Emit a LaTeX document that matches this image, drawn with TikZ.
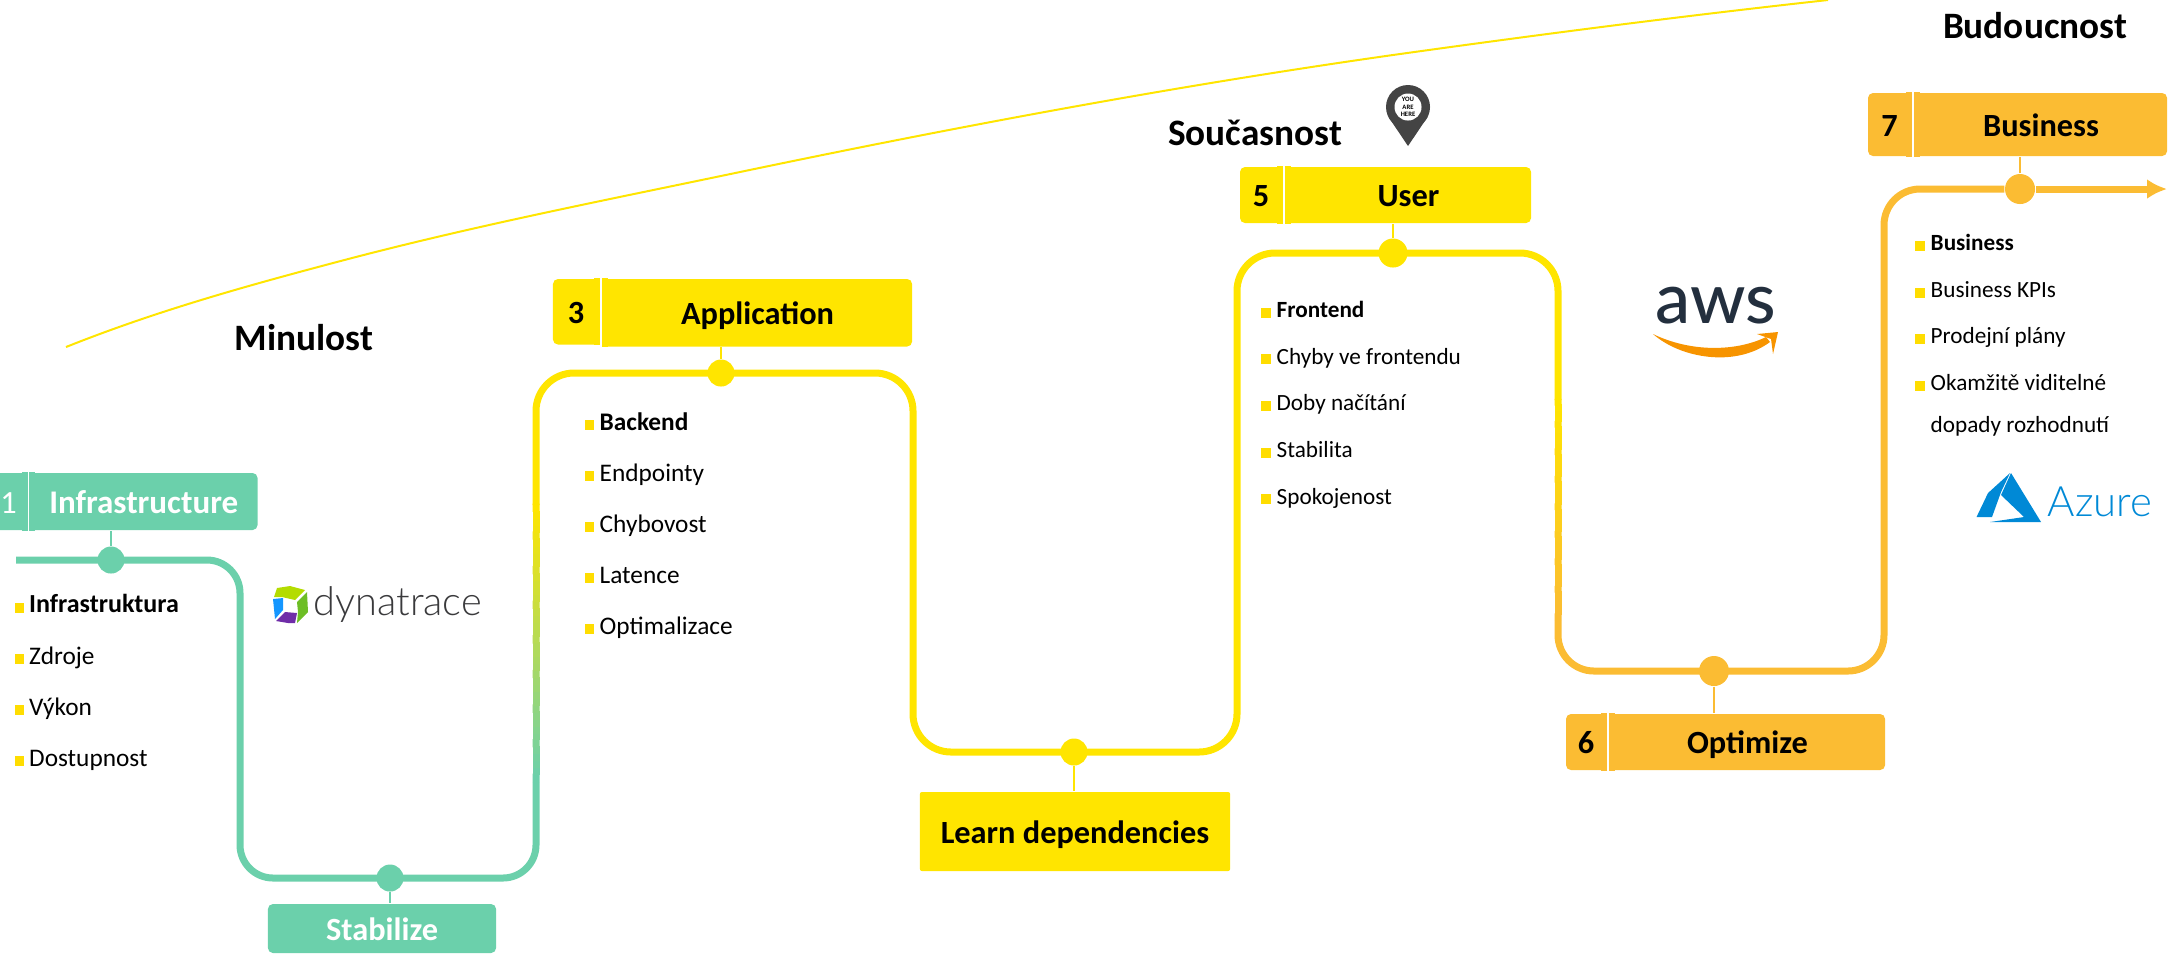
\documentclass[tikz,border=0pt]{standalone}
\usepackage{fontspec}
\usepackage{tikz}
\usetikzlibrary{calc, arrows.meta, positioning}
\setmainfont{Carlito}
\newfontfamily\logofont{Lato Medium}
\newfontfamily\thinfont{Lato Light}
\definecolor{tealc}{HTML}{6BD0AB}
\definecolor{yellowc}{HTML}{FFE500}
\definecolor{orangec}{HTML}{FBBC33}
\definecolor{bulletc}{HTML}{FFDD00}
\definecolor{azurec}{HTML}{0089D6}
\tikzset{
  stagebox/.style={inner sep=0pt, rounded corners=0.05cm, text height=0.23cm, text depth=0pt, font=\fontsize{9.2}{11}\bfseries\selectfont},
  dotnode/.style={circle, inner sep=0pt, minimum size=0.27cm},
  pathline/.style={line width=0.07cm},
  stemline/.style={line width=0.018cm},
  itemtext/.style={anchor=base west, inner sep=0pt, font=\fontsize{7.2}{9}\selectfont},
  itemsmall/.style={anchor=base west, inner sep=0pt, font=\fontsize{6.6}{9}\selectfont},
  itembold/.style={anchor=base west, inner sep=0pt, font=\fontsize{7.2}{9}\bfseries\selectfont},
  itemsmallbold/.style={anchor=base west, inner sep=0pt, font=\fontsize{6.6}{9}\bfseries\selectfont},
  bulletbox/.style={fill=bulletc, inner sep=0pt, minimum size=0.095cm},
  eralabel/.style={anchor=base, inner sep=0pt, font=\fontsize{10.6}{12}\bfseries\selectfont}
}
\begin{document}
\begin{tikzpicture}[>=latex, x=0.01cm, y=-0.01cm]
\useasboundingbox (0,0) rectangle (2179,953);

\draw[yellowc, line width=0.02cm] (66,347) .. controls (161,309) and (257,283) .. (352,258)
  .. controls (481,224.4) and (611,199) .. (740,172)
  .. controls (960,126) and (1180,85) .. (1400,54)
  .. controls (1543,34) and (1685,15.7) .. (1828,0);

\node[eralabel] (eraPast) at (304,350) {Minulost};
\node[eralabel] (eraNow) at (1255,145) {Současnost};
\node[eralabel] (eraNext) at (2035,38.5) {Budoucnost};

\node[stagebox, fill=tealc, text=white, font=\fontsize{9.2}{11}\selectfont, minimum width=0.37cm, minimum height=0.57cm] (numA) at (8.5,501.5) {1};
\node[stagebox, fill=tealc, text=white, font=\fontsize{9.4}{11}\bfseries\selectfont, minimum width=2.275cm, minimum height=0.57cm] (boxA) at (143.75,501.5) {Infrastructure};
\node[stagebox, fill=tealc, text=white, minimum width=2.28cm, minimum height=0.49cm] (boxB) at (382,928.5) {Stabilize};
\node[stagebox, fill=yellowc, minimum width=0.46cm, minimum height=0.655cm] (numC) at (576,311.75) {3};
\node[stagebox, fill=yellowc, minimum width=3.09cm, minimum height=0.675cm] (boxC) at (757.5,312.75) {Application};
\node[stagebox, fill=yellowc, minimum width=3.10cm, minimum height=0.79cm, rounded corners=0.02cm] (boxD) at (1075,831.5) {Learn dependencies};
\node[stagebox, fill=yellowc, minimum width=0.42cm, minimum height=0.56cm] (numE) at (1261,195) {5};
\node[stagebox, fill=yellowc, minimum width=2.45cm, minimum height=0.56cm] (boxE) at (1408.5,195) {User};
\node[stagebox, fill=orangec, minimum width=0.40cm, minimum height=0.56cm] (numF) at (1586,742) {6};
\node[stagebox, fill=orangec, minimum width=2.75cm, minimum height=0.56cm] (boxF) at (1747.5,742) {Optimize};
\node[stagebox, fill=orangec, minimum width=0.43cm, minimum height=0.63cm] (numG) at (1889.5,124.5) {7};
\node[stagebox, fill=orangec, minimum width=2.52cm, minimum height=0.63cm] (boxG) at (2041,124.5) {Business};

\foreach \num/\main/\shadec in {numA/boxA/tealc, numC/boxC/yellowc, numE/boxE/yellowc, numF/boxF/orangec, numG/boxG/orangec} {
  \fill[\shadec] (\num.north east) rectangle ($(\num.south east)+(-6,0)$);
  \fill[\shadec] (\main.north west) rectangle ($(\main.south west)+(6,0)$);
}

\node[dotnode, fill=tealc] (dotA) at (111,560) {};
\node[dotnode, fill=tealc] (dotB) at (390,878) {};
\node[dotnode, fill=yellowc] (dotC) at (721,373) {};
\node[dotnode, fill=yellowc] (dotD) at (1074,752) {};
\node[dotnode, fill=yellowc, minimum size=0.29cm] (dotE) at (1393,253) {};
\node[dotnode, fill=orangec, minimum size=0.30cm] (dotF) at (1714,671) {};
\node[dotnode, fill=orangec, minimum size=0.30cm] (dotG) at (2020,189) {};

\draw[tealc, stemline] (dotA) -- (dotA |- boxA.south);
\draw[tealc, stemline] (dotB) -- (dotB |- boxB.north);
\draw[yellowc, stemline] (dotC) -- (dotC |- boxC.south);
\draw[yellowc, stemline] (dotD) -- (dotD |- boxD.north);
\draw[yellowc, stemline] (dotE) -- (dotE |- boxE.south);
\draw[orangec, stemline] (dotF) -- (dotF |- boxF.north);
\draw[orangec, stemline] (dotG) -- (dotG |- boxG.south);

\coordinate (startA) at (16,560);
\coordinate (bendA) at (240,560);
\coordinate (bendB) at (240,878);
\coordinate (bendC) at (536,878);
\coordinate (fadeA) at (536,782);
\coordinate (fadeB) at (536,505);
\coordinate (bendD) at (536,373);
\coordinate (bendE) at (913,373);
\coordinate (bendF) at (913,752);
\coordinate (bendG) at (1237,752);
\coordinate (bendH) at (1237,253);
\coordinate (bendI) at (1558,253);
\coordinate (fadeC) at (1558,400);
\coordinate (fadeD) at (1558,620);
\coordinate (bendJ) at (1558,671);
\coordinate (bendK) at (1884,671);
\coordinate (bendL) at (1884,189);
\coordinate (endG) at (2167,189);

\draw[tealc, pathline, rounded corners=0.33cm] (startA) -- (bendA) -- (bendB) -- (bendC) -- (fadeA);
\draw[yellowc, pathline, rounded corners=0.38cm] (fadeB) -- (bendD) -- (bendE) -- (bendF) -- (bendG) -- (bendH) -- (bendI) -- (fadeC);
\draw[orangec, pathline, rounded corners=0.36cm] (fadeD) -- (bendJ) -- (bendK) -- (bendL) -- (dotG);
\draw[orangec, pathline, -{Latex[length=0.2cm, width=0.2cm]}] (dotG) -- (endG);
\foreach \k in {0,...,39} {
  \pgfmathtruncatemacro\mixv{\k*100/39}
  \draw[yellowc!\mixv!tealc, pathline] ($(fadeA)!\k/40!(fadeB)$) -- ($(fadeA)!\k/40+0.03!(fadeB)$);
  \draw[yellowc!\mixv!orangec, pathline] ($(fadeD)!\k/40!(fadeC)$) -- ($(fadeD)!\k/40+0.03!(fadeC)$);
}

\node[bulletbox] (markA1) at (19.5,608) {};
\node[bulletbox] (markA2) at (19.5,659) {};
\node[bulletbox] (markA3) at (19.5,710) {};
\node[bulletbox] (markA4) at (19.5,761) {};
\node[itembold, font=\fontsize{7.4}{9}\bfseries\selectfont] (itemA1) at (28.5,612.7) {Infrastruktura};
\node[itemtext] (itemA2) at (28.5,664) {Zdroje};
\node[itemtext] (itemA3) at (28.5,715) {Výkon};
\node[itemtext] (itemA4) at (28.5,766) {Dostupnost};

\node[bulletbox] (markC1) at (589.5,425) {};
\node[bulletbox] (markC2) at (589.5,476) {};
\node[bulletbox] (markC3) at (589.5,527) {};
\node[bulletbox] (markC4) at (589.5,578) {};
\node[bulletbox] (markC5) at (589.5,629) {};
\node[itembold] (itemC1) at (599,430) {Backend};
\node[itemtext] (itemC2) at (599,481) {Endpointy};
\node[itemtext] (itemC3) at (599,532) {Chybovost};
\node[itemtext] (itemC4) at (599,583) {Latence};
\node[itemtext] (itemC5) at (599,634) {Optimalizace};

\node[bulletbox] (markE1) at (1266,313) {};
\node[bulletbox] (markE2) at (1266,359) {};
\node[bulletbox] (markE3) at (1266,406) {};
\node[bulletbox] (markE4) at (1266,453) {};
\node[bulletbox] (markE5) at (1266,499) {};
\node[itemsmallbold] (itemE1) at (1276,317) {Frontend};
\node[itemsmall] (itemE2) at (1276,364) {Chyby ve frontendu};
\node[itemsmall] (itemE3) at (1276,410) {Doby načítání};
\node[itemsmall] (itemE4) at (1276,457) {Stabilita};
\node[itemsmall] (itemE5) at (1276,504) {Spokojenost};

\node[bulletbox] (markG1) at (1920,246) {};
\node[bulletbox] (markG2) at (1920,293) {};
\node[bulletbox] (markG3) at (1920,339) {};
\node[bulletbox] (markG4) at (1920,386) {};
\node[itemsmallbold] (itemG1) at (1930,250) {Business};
\node[itemsmall] (itemG2) at (1930,297) {Business KPIs};
\node[itemsmall] (itemG3) at (1930,343) {Prodejní plány};
\node[itemsmall] (itemG4) at (1930,390) {Okamžitě viditelné};
\node[itemsmall] (itemG5) at (1930,432) {dopady rozhodnutí};

\fill[fill={rgb,255:red,180;green,220;blue,0}] (277,588) -- (290,586) -- (305,590) -- (295,600) -- (282,597) -- (274,597) -- cycle;
\fill[fill={rgb,255:red,109;green,190;blue,37}] (307,592) -- (308,612) -- (297,623) -- (298,612) -- (297,602) -- cycle;
\fill[fill={rgb,255:red,111;green,45;blue,168}] (276,621) -- (285,612) -- (297,613) -- (295,623) -- (288,623) -- cycle;
\fill[fill={rgb,255:red,20;green,150;blue,255}] (273,599) -- (283,598) -- (283,610) -- (275,619) -- cycle;
\node[anchor=base west, inner sep=0pt, text={rgb,255:red,58;green,58;blue,60}, font=\thinfont\fontsize{11.3}{13}\selectfont] (logoDyna) at (313,615) {dynatrace};

\node[anchor=base, inner sep=0pt, text={rgb,255:red,35;green,47;blue,62}, font=\logofont\fontsize{20}{22}\selectfont] (logoAws) at (1716,323) {aws};
\fill[fill={rgb,255:red,247;green,148;blue,0}] (1653,334) .. controls (1680,358) and (1735,368) .. (1770,342) -- (1766,337) .. controls (1735,352) and (1690,352) .. (1653,334) -- cycle;
\fill[fill={rgb,255:red,247;green,148;blue,0}] (1757,334) -- (1778,332) -- (1773,354) -- (1771,339) -- cycle;

\fill[azurec] (2011,473) -- (2041,522) -- (1990,522) -- (2024,517) -- (2001,495) -- cycle;
\fill[azurec] (2010,473) -- (1988,493) -- (1976.5,517) -- (1992,517) -- (2001,492) -- cycle;
\node[anchor=base west, inner sep=0pt, text=azurec, font=\thinfont\fontsize{11.9}{13}\selectfont] (logoAzure) at (2047,516) {Azure};

\fill[fill={rgb,255:red,68;green,68;blue,68}] (1388.5,117) -- (1408,146) -- (1427.5,117) -- cycle;
\node[circle, inner sep=0pt, fill={rgb,255:red,68;green,68;blue,68}, minimum size=0.44cm] (pinHead) at (1408,107) {};
\node[circle, inner sep=0pt, fill=white, minimum size=0.27cm, align=center, font=\fontsize{1.9}{2.2}\bfseries\selectfont] (pinText) at (pinHead) {YOU\\ARE\\HERE};
\end{tikzpicture}
\end{document}
